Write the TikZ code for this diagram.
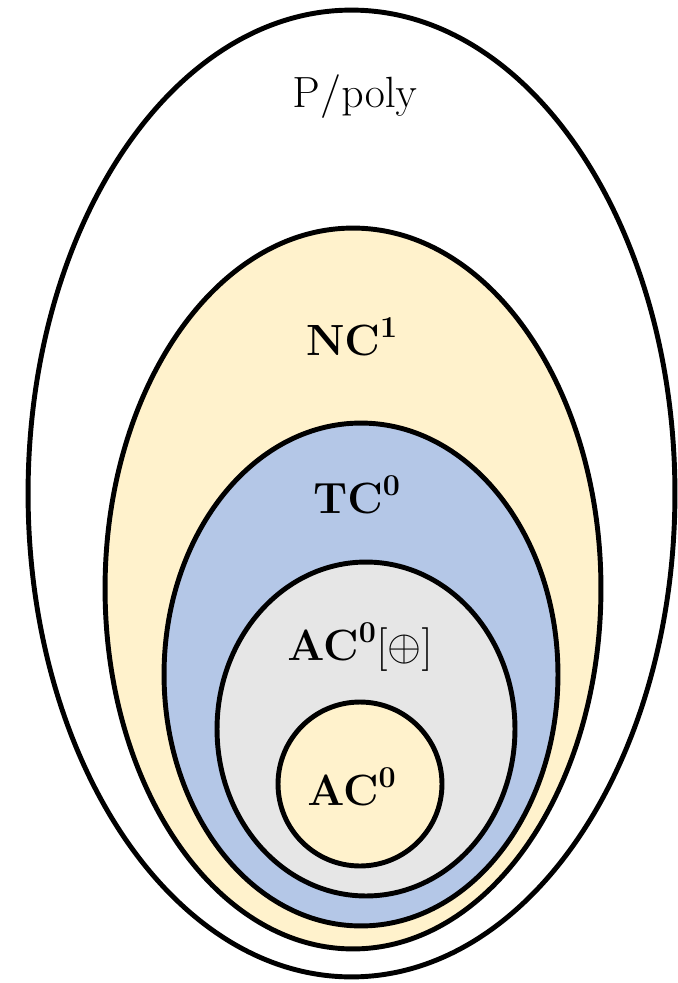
\documentclass[tikz,border=0pt]{standalone}
\usepackage{amsmath,amssymb}
\usepackage{tikz}
\usetikzlibrary{shapes.geometric}
\definecolor{setYellow}{RGB}{255,242,204}
\definecolor{setBlue}{RGB}{180,199,231}
\definecolor{setGray}{RGB}{230,230,230}
\tikzset{
  classset/.style={ellipse, draw=black, line width=2.8pt, inner sep=0pt},
  classlabel/.style={inner sep=0pt, font=\fontsize{26}{30}\selectfont}
}

\begin{document}
\begin{tikzpicture}[x=0.02cm, y=-0.02cm]
\useasboundingbox (0,0) rectangle (677,983);
\node[classset, fill=white, minimum width=12.94cm, minimum height=19.34cm] (ppoly) at (351.5,493.5) {};
\node[classset, fill=setYellow, minimum width=9.92cm, minimum height=14.42cm] (nc) at (353,588.5) {};
\node[classset, fill=setBlue, minimum width=7.88cm, minimum height=10.06cm] (tc) at (361,674.5) {};
\node[classset, fill=setGray, minimum width=5.96cm, minimum height=6.68cm] (acpar) at (366,729) {};
\node[classset, fill=setYellow, minimum width=3.28cm, minimum height=3.28cm] (ac) at (360,784) {};
% labels
\node[classlabel] (ppolylab) at (355,97) {$\mathrm{P}/\mathrm{poly}$};
\node[classlabel] (nclab) at (352,337) {$\mathbf{NC}^{\mathbf{1}}$};
\node[classlabel] (tclab) at (357,495) {$\mathbf{TC}^{\mathbf{0}}$};
\node[classlabel] (acparlab) at (360,647) {$\mathbf{AC}^{\mathbf{0}}[\oplus]$};
\node[classlabel] (aclab) at (352,787) {$\mathbf{AC}^{\mathbf{0}}$};
\end{tikzpicture}
\end{document}
